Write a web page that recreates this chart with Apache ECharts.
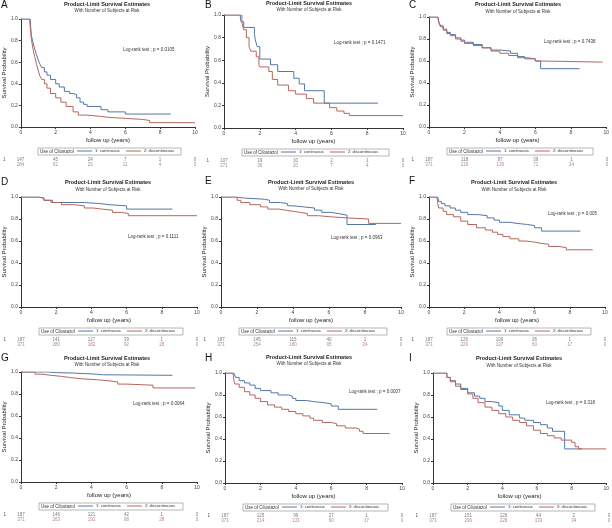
<!DOCTYPE html>
<html><head><meta charset="utf-8">
<script src="https://cdn.jsdelivr.net/npm/echarts@6/dist/echarts.min.js"></script>
<style>html,body{margin:0;padding:0;background:#fff}#c{width:612px;height:528px}</style>
</head><body><div id="c"></div><script>
// ---------- DATA ----------
const xTicks = [0, 2, 4, 6, 8, 10];
const panelLetters = ['A','B','C','D','E','F','G','H','I'];
const pValues = ['0.0105','0.1471','0.7438','0.1111','0.0963','0.005','0.0064','0.0007','0.318'];
const seriesNames = ['1: continuous', '2: discontinuous'];
const riskRowLabels = ['1', '2'];

const A_cont = [[0,1],[0.53,1],[0.6,0.85],[0.7,0.78],[0.8,0.72],[0.9,0.67],[1.0,0.62],[1.1,0.58],[1.2,0.55],[1.35,0.51],[1.5,0.48],[1.7,0.44],[2.0,0.40],[2.2,0.37],[2.5,0.33],[2.8,0.31],[3.0,0.30],[3.2,0.27],[3.4,0.23],[3.6,0.21],[3.8,0.19],[4.6,0.16],[5.0,0.14],[6.0,0.12],[8.6,0.12]];
const A_disc = [[0,1],[0.5,1],[0.6,0.82],[0.7,0.72],[0.8,0.65],[0.9,0.58],[1.0,0.52],[1.1,0.47],[1.2,0.44],[1.35,0.40],[1.5,0.36],[1.7,0.31],[2.0,0.27],[2.3,0.23],[2.6,0.19],[3.0,0.14],[3.3,0.11],[3.8,0.10],[4.5,0.09],[5.0,0.08],[6.0,0.07],[7.0,0.06],[7.4,0.04],[10,0.04]];
const B_cont = [[0,1],[0.9,1],[0.95,0.94],[1.1,0.89],[1.7,0.83],[1.75,0.78],[1.85,0.72],[2.0,0.61],[2.6,0.56],[3.0,0.50],[3.9,0.44],[4.2,0.39],[4.5,0.33],[5.6,0.22],[8.6,0.22]];
const B_disc = [[0,1],[0.85,1],[1.0,0.93],[1.1,0.87],[1.25,0.80],[1.4,0.72],[1.5,0.68],[1.8,0.63],[1.95,0.56],[2.0,0.54],[2.5,0.50],[2.7,0.43],[3.0,0.38],[3.6,0.33],[4.0,0.30],[4.6,0.26],[5.0,0.22],[5.9,0.18],[6.3,0.15],[6.7,0.13],[7.0,0.11],[10,0.11]];
const C_cont = [[0,1],[0.5,1],[0.55,0.96],[0.65,0.92],[0.8,0.89],[1.0,0.86],[1.2,0.84],[1.5,0.81],[1.8,0.79],[2.0,0.77],[2.5,0.75],[3.0,0.72],[3.5,0.70],[4.0,0.69],[4.6,0.67],[5.0,0.64],[5.4,0.62],[6.0,0.60],[6.3,0.53],[8.5,0.53]];
const C_disc = [[0,1],[0.5,1],[0.55,0.95],[0.65,0.91],[0.8,0.88],[1.0,0.85],[1.2,0.83],[1.5,0.80],[1.8,0.78],[2.0,0.76],[2.5,0.74],[3.0,0.72],[3.5,0.69],[4.0,0.67],[4.5,0.65],[5.0,0.63],[5.5,0.62],[6.0,0.60],[6.3,0.59],[9.8,0.59]];
const D_cont = [[0,1],[0.7,1],[1.0,0.99],[1.3,0.97],[1.8,0.95],[3.6,0.94],[4.5,0.93],[5.0,0.92],[6.0,0.89],[8.6,0.89]];
const D_disc = [[0,1],[0.6,1],[1.0,0.99],[1.3,0.97],[1.7,0.95],[2.3,0.93],[3.0,0.92],[3.6,0.90],[4.1,0.89],[4.6,0.88],[5.2,0.86],[5.7,0.85],[6.1,0.83],[10,0.83]];
const E_cont = [[0,1],[0.8,1],[0.9,0.99],[1.3,0.98],[2.4,0.97],[2.7,0.95],[3.3,0.94],[3.7,0.92],[4.0,0.91],[4.6,0.90],[5.2,0.88],[5.6,0.86],[6.1,0.85],[6.5,0.835],[7.0,0.75],[8.6,0.75]];
const E_disc = [[0,1],[0.7,1],[0.9,0.97],[1.1,0.95],[1.6,0.93],[2.2,0.91],[2.6,0.89],[3.2,0.88],[3.6,0.87],[4.0,0.86],[4.4,0.85],[4.8,0.83],[5.4,0.82],[6.1,0.81],[7.0,0.80],[8.2,0.76],[10,0.76]];
const F_cont = [[0,1],[0.5,1],[0.55,0.96],[0.7,0.94],[0.9,0.92],[1.2,0.90],[1.5,0.88],[1.8,0.86],[2.2,0.84],[2.8,0.83],[3.3,0.81],[3.7,0.79],[4.0,0.77],[4.6,0.76],[5.0,0.75],[5.6,0.74],[6.0,0.72],[6.4,0.69],[8.6,0.69]];
const F_disc = [[0,1],[0.45,1],[0.5,0.94],[0.55,0.90],[0.8,0.87],[1.0,0.84],[1.4,0.82],[1.8,0.78],[2.2,0.75],[2.7,0.72],[3.2,0.70],[3.6,0.68],[3.9,0.66],[4.2,0.64],[4.6,0.62],[5.1,0.60],[5.5,0.59],[6.0,0.58],[6.3,0.57],[6.8,0.55],[7.4,0.54],[7.8,0.52],[9.3,0.52]];
const G_cont = [[0,1],[0.7,1],[1.5,0.995],[2.0,0.99],[3.0,0.985],[3.7,0.98],[4.3,0.975],[4.6,0.97],[8.6,0.97]];
const G_disc = [[0,1],[0.6,1],[0.8,0.98],[1.2,0.97],[1.7,0.96],[2.3,0.95],[2.8,0.94],[3.3,0.93],[4.3,0.92],[5.0,0.91],[5.5,0.89],[6.0,0.88],[7.5,0.855],[9.9,0.855]];
const H_cont = [[0,1],[0.5,1],[0.6,0.96],[0.8,0.93],[1.1,0.91],[1.4,0.89],[1.7,0.86],[2.0,0.84],[2.6,0.82],[3.0,0.80],[3.6,0.79],[3.8,0.77],[4.0,0.75],[4.6,0.74],[5.0,0.73],[5.6,0.72],[6.0,0.70],[6.4,0.67],[8.6,0.67]];
const H_disc = [[0,1],[0.45,1],[0.5,0.94],[0.55,0.90],[0.8,0.87],[1.1,0.83],[1.4,0.80],[1.7,0.77],[2.0,0.74],[2.4,0.71],[2.8,0.69],[3.2,0.67],[3.6,0.65],[4.0,0.63],[4.4,0.61],[4.8,0.59],[5.0,0.57],[5.5,0.55],[6.0,0.54],[6.3,0.52],[6.8,0.50],[7.4,0.49],[7.6,0.47],[7.8,0.45],[9.3,0.45]];
const I_cont = [[0,1],[0.5,1],[0.8,0.96],[1.0,0.93],[1.3,0.90],[1.6,0.86],[2.0,0.82],[2.4,0.79],[2.7,0.77],[3.0,0.74],[3.4,0.73],[3.8,0.70],[4.0,0.66],[4.4,0.62],[5.0,0.59],[5.3,0.57],[5.8,0.55],[6.2,0.53],[6.6,0.50],[6.9,0.47],[7.6,0.31],[8.6,0.31]];
const I_disc = [[0,1],[0.5,1],[0.8,0.96],[1.0,0.92],[1.3,0.88],[1.6,0.85],[2.0,0.81],[2.3,0.77],[2.6,0.73],[3.0,0.69],[3.4,0.66],[3.8,0.63],[4.2,0.60],[4.6,0.57],[5.0,0.55],[5.4,0.52],[5.8,0.48],[6.2,0.45],[6.6,0.43],[7.0,0.41],[7.4,0.39],[8.0,0.37],[8.2,0.33],[8.4,0.31],[10,0.31]];

const A_risk1 = [147,45,24,7,1,0], A_risk2 = [284,62,23,11,4,0];
const B_risk1 = [107,19,10,2,1,0], B_risk2 = [271,36,20,7,4,0];
const C_risk1 = [187,118,87,39,1,0], C_risk2 = [371,216,139,71,24,0];
const D_risk1 = [187,141,117,39,1,0], D_risk2 = [371,280,182,92,28,0];
const E_risk1 = [187,145,115,40,1,0], E_risk2 = [371,254,180,95,24,0];
const F_risk1 = [187,126,100,36,1,0], F_risk2 = [371,229,137,60,17,0];
const G_risk1 = [187,146,121,42,1,0], G_risk2 = [371,263,191,98,28,0];
const H_risk1 = [187,125,99,27,1,0], H_risk2 = [371,214,133,60,17,0];
const I_risk1 = [187,151,126,44,2,0], I_risk2 = [371,296,228,133,34,0];

const contData = [A_cont,B_cont,C_cont,D_cont,E_cont,F_cont,G_cont,H_cont,I_cont];
const discData = [A_disc,B_disc,C_disc,D_disc,E_disc,F_disc,G_disc,H_disc,I_disc];
const risk1Data = [A_risk1,B_risk1,C_risk1,D_risk1,E_risk1,F_risk1,G_risk1,H_risk1,I_risk1];
const risk2Data = [A_risk2,B_risk2,C_risk2,D_risk2,E_risk2,F_risk2,G_risk2,H_risk2,I_risk2];

// ---------- LAYOUT / STYLE ----------
const BLUE = '#5677a6', RED = '#b5675e', AX = '#333';
const FONT = 'Liberation Sans, Arial, sans-serif';
const layout = [
  [20,19,195,127],[224,15,403,128],[429,17,607,127],
  [21,197,197,307],[221,197,401,307],[429,197,605,307],
  [21,372,197,482],[225,373,402,483],[433,373,609,483]
];
const titlePos = [[107,4.3],[309,3.3],[518,4.7],[108,182.7],[311,182],[514,182.7],[107,358],[309,357.3],[519,358.7]];
const letterPos = [[1,5],[205,5],[409,5],[1,182],[205,181],[409,181],[1,358],[205,358],[409,358]];
const pPos = [[123,50],[334,43],[544,42],[128,237],[331,238],[548,214],[133,404],[349,392],[546,403]];

const grids=[], xAxes=[], yAxes=[], series=[], legends=[], graphics=[];
layout.forEach((g,i)=>{
  const [l,t,r,b] = g;
  const gi = 2*i, ri = 2*i+1;
  grids.push({left:l, top:t, width:r-l, height:b-t});
  grids.push({left:l, top:b+30, width:r-l, height:10});
  xAxes.push({gridIndex:gi, type:'value', min:0, max:10, interval:2,
    name:'follow up (years)', nameLocation:'middle', nameGap:10,
    nameTextStyle:{fontSize:6, color:'#222', fontFamily:FONT},
    axisLine:{onZero:false, lineStyle:{color:AX, width:1}},
    axisTick:{length:2, lineStyle:{color:AX}},
    axisLabel:{fontSize:5, margin:3, color:'#444', fontFamily:FONT},
    splitLine:{show:false}});
  xAxes.push({gridIndex:ri, type:'value', min:0, max:10, show:false});
  yAxes.push({gridIndex:gi, type:'value', min:0, max:1, interval:0.2,
    name:'Survival Probability', nameLocation:'middle', nameGap:12,
    nameTextStyle:{fontSize:6, color:'#222', fontFamily:FONT},
    axisLine:{show:true, lineStyle:{color:AX, width:1}},
    axisTick:{show:true, length:2, lineStyle:{color:AX}},
    axisLabel:{fontSize:5, margin:3, color:'#444', fontFamily:FONT, formatter:v=>v.toFixed(1)},
    splitLine:{show:false}});
  yAxes.push({gridIndex:ri, type:'category', data:riskRowLabels, inverse:true,
    axisLine:{show:false}, axisTick:{show:false}, splitLine:{show:false},
    axisLabel:{fontSize:4.5, margin:15, fontFamily:FONT, color:(v,idx)=> idx===0 ? '#555' : '#a0605a'}});

  series.push({type:'line', name:seriesNames[0], xAxisIndex:gi, yAxisIndex:gi, data:contData[i],
    step:'end', symbol:'none', lineStyle:{color:BLUE, width:1}, itemStyle:{color:BLUE}, animation:false, silent:true});
  series.push({type:'line', name:seriesNames[1], xAxisIndex:gi, yAxisIndex:gi, data:discData[i],
    step:'end', symbol:'none', lineStyle:{color:RED, width:1}, itemStyle:{color:RED}, animation:false, silent:true});
  [risk1Data[i], risk2Data[i]].forEach((arr,row)=>{
    series.push({type:'scatter', xAxisIndex:ri, yAxisIndex:ri, symbolSize:1, silent:true, animation:false,
      itemStyle:{color:'rgba(0,0,0,0)'},
      data: xTicks.map((x,k)=>[x,row,arr[k]]),
      label:{show:true, position:'inside', formatter:p=>p.value[2], fontSize:4.5, fontFamily:FONT,
        color: row===0 ? '#505a66' : '#a5665e'}});
  });

  legends.push({data:seriesNames, left:l+57, top:b+22, icon:'rect', itemWidth:15, itemHeight:1, itemGap:6, padding:0,
    selectedMode:false, textStyle:{fontSize:4.2, color:'#333', fontFamily:FONT, padding:[0,0,0,-2]}});
  graphics.push({type:'rect', shape:{x:l+18, y:b+21, width:r-l-32, height:7},
    style:{fill:'none', stroke:'#888', lineWidth:0.6}, silent:true});
  graphics.push({type:'text', x:l+20, y:b+24.5, style:{text:'Use of Cilostazol', fontSize:4.5, fill:'#333',
    fontFamily:FONT, verticalAlign:'middle', align:'left'}});
  graphics.push({type:'text', x:titlePos[i][0], y:titlePos[i][1], style:{text:'Product-Limit Survival Estimates',
    fontSize:5.5, fontWeight:'bold', fill:'#222', fontFamily:FONT, align:'center', verticalAlign:'middle'}});
  graphics.push({type:'text', x:titlePos[i][0], y:titlePos[i][1]+6.7, style:{text:'With Number of Subjects at Risk',
    fontSize:4.5, fill:'#333', fontFamily:FONT, align:'center', verticalAlign:'middle'}});
  graphics.push({type:'text', x:letterPos[i][0], y:letterPos[i][1], style:{text:panelLetters[i],
    fontSize:10, fill:'#111', fontFamily:FONT, align:'left', verticalAlign:'middle'}});
  graphics.push({type:'text', x:pPos[i][0], y:pPos[i][1], style:{text:'Log-rank test ; p = '+pValues[i],
    fontSize:4.5, fill:'#333', fontFamily:FONT, align:'left', verticalAlign:'middle'}});
});

const chart = echarts.init(document.getElementById('c'), null, {renderer:'canvas'});
chart.setOption({
  backgroundColor:'#fff',
  animation:false,
  grid:grids, xAxis:xAxes, yAxis:yAxes, series:series, legend:legends, graphic:graphics
});
</script></body></html>
